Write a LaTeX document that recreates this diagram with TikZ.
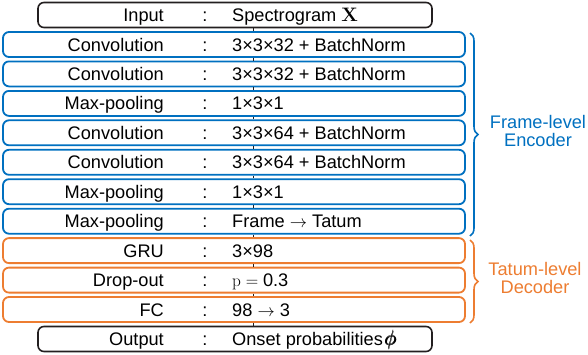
\documentclass[tikz,border=0pt]{standalone}
\usepackage{amsmath,bm}
\usepackage[no-math]{fontspec}
\setmainfont{Liberation Sans}
\newfontfamily\lmr{Latin Modern Roman}
\usetikzlibrary{decorations.pathreplacing}
\definecolor{encblue}{RGB}{0,112,192}
\definecolor{decorange}{RGB}{237,125,49}
\definecolor{boxblack}{RGB}{35,31,32}
\begin{document}
\begin{tikzpicture}[x=1pt,y=-1pt,
  layerbox/.style={draw,rounded corners=6pt,line width=1.8pt,minimum height=25pt,inner sep=0pt},
  encbox/.style={layerbox,draw=encblue,minimum width=462pt},
  decbox/.style={layerbox,draw=decorange,minimum width=462pt},
  iobox/.style={layerbox,draw=boxblack,line width=1.6pt,minimum width=394pt},
  lbl/.style={inner sep=0pt,anchor=base east,font=\fontsize{18.2}{20}\selectfont},
  colon/.style={inner sep=0pt,anchor=base,font=\fontsize{18.2}{20}\selectfont},
  val/.style={inner sep=0pt,anchor=base west,font=\fontsize{18.2}{20}\selectfont},
  grouptxt/.style={inner sep=0pt,align=center,font=\fontsize{18.2}{18.5}\selectfont},
  link/.style={draw=boxblack,line width=1pt},
  bracestyle/.style={decorate,decoration={brace,amplitude=8pt},line width=1.6pt}
]
\useasboundingbox (0,0) rectangle (588,354);
% boxes
\node[iobox]  (r0)  at (235,15)    {};
\node[encbox] (r1)  at (234,44.5)  {};
\node[encbox] (r2)  at (234,73.9)  {};
\node[encbox] (r3)  at (234,103.4) {};
\node[encbox] (r4)  at (234,132.8) {};
\node[encbox] (r5)  at (234,162.3) {};
\node[encbox] (r6)  at (234,191.7) {};
\node[encbox] (r7)  at (234,221.2) {};
\node[decbox] (r8)  at (234,250.6) {};
\node[decbox] (r9)  at (234,280.1) {};
\node[decbox] (r10) at (234,309.5) {};
\node[iobox]  (r11) at (235,339)   {};
% connectors
\foreach \a/\b in {r0/r1,r1/r2,r2/r3,r3/r4,r4/r5,r5/r6,r6/r7,r7/r8,r8/r9,r9/r10,r10/r11}
  \draw[link] (\a.south -| 253,0) -- (\b.north -| 253,0);
% texts
\foreach \i/\l/\v in {0/Input/{Spectrogram {\lmr\bfseries\fontsize{19.5}{20}\selectfont X}},
  1/Convolution/{3×3×32 + BatchNorm},
  2/Convolution/{3×3×32 + BatchNorm},
  3/Max-pooling/{1×3×1},
  4/Convolution/{3×3×64 + BatchNorm},
  5/Convolution/{3×3×64 + BatchNorm},
  6/Max-pooling/{1×3×1},
  7/Max-pooling/{Frame $\rightarrow$ Tatum},
  8/GRU/{3×98},
  9/Drop-out/{$\mathrm{p}=\mbox{0.3}$},
  10/FC/{98 $\rightarrow$ 3},
  11/Output/{Onset probabilities\kern2pt{\fontsize{21}{22}\selectfont$\pmb{\phi}$}}}{
  \node[lbl] (l\i) at ([yshift=-6.5pt]r\i.center -| 164,0) {\l};
  \node[colon] (c\i) at ([yshift=-6.5pt]r\i.center -| 205,0) {:};
  \node[val] (v\i) at ([yshift=-6.5pt]r\i.center -| 232,0) {\v};
}
% braces
\coordinate (eTop) at (470,33);
\coordinate (eBot) at (470,236);
\coordinate (dTop) at (470,240);
\coordinate (dBot) at (470,323);
\draw[bracestyle,draw=encblue] (eTop) -- (eBot);
\draw[bracestyle,draw=decorange] (dTop) -- (dBot);
\node[grouptxt,text=encblue] (enc) at (538,131) {Frame-level\\Encoder};
\node[grouptxt,text=decorange] (dec) at (535,278) {Tatum-level\\Decoder};
\end{tikzpicture}
\end{document}
